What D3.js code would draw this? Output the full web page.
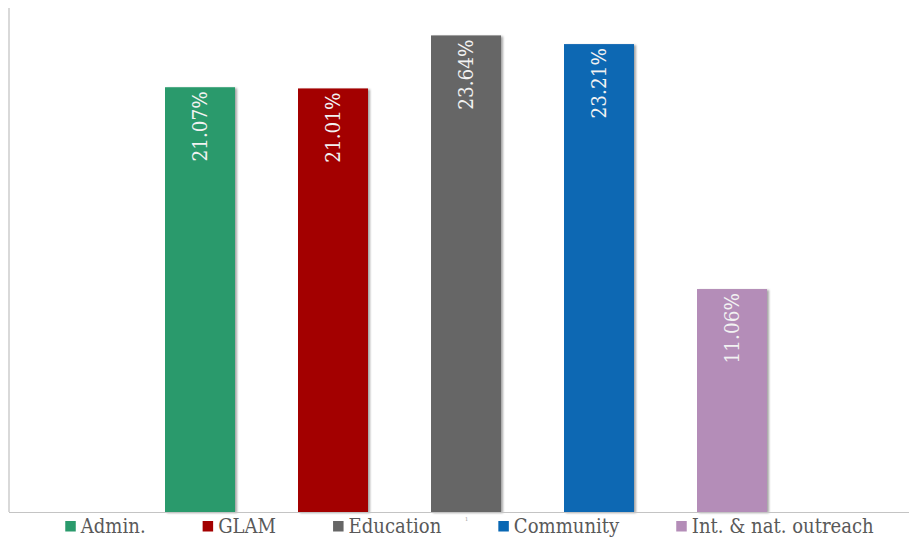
<!DOCTYPE html>
<html><head><meta charset="utf-8">
<script src="https://cdn.jsdelivr.net/npm/d3@7"></script>
<style>html,body{margin:0;padding:0;background:#fff;}svg{display:block;}</style>
</head><body>
<svg id="chart" width="909" height="538"></svg>
<script>
const categories = ["Admin.", "GLAM", "Education", "Community", "Int. & nat. outreach"];
const values = [21.07, 21.01, 23.64, 23.21, 11.06];
const labels = ["21.07%", "21.01%", "23.64%", "23.21%", "11.06%"];
const colors = ["#2a9a6c", "#a30000", "#666666", "#0867b3", "#b48db8"];

const svg = d3.select("#chart");
const plot = {left: 9, top: 8, right: 909, bottom: 512};

const defs = svg.append("defs");
const f = defs.append("filter").attr("id", "shadow").attr("x", "-20%").attr("y", "-5%").attr("width", "140%").attr("height", "110%");
f.append("feDropShadow").attr("dx", 2).attr("dy", 1).attr("stdDeviation", 1.2).attr("flood-color", "#000").attr("flood-opacity", 0.35);

const y = d3.scaleLinear().domain([0, 25]).range([plot.bottom, plot.top]);
const x = d3.scaleBand().domain(categories).range([165, 767]).paddingInner(0.4737).paddingOuter(0);

svg.append("line").attr("x1", plot.left).attr("x2", plot.left).attr("y1", plot.top).attr("y2", plot.bottom)
  .attr("stroke", "#d9d9d9").attr("stroke-width", 2);

svg.append("g").selectAll("rect").data(categories).join("rect")
  .attr("x", d => x(d)).attr("width", x.bandwidth())
  .attr("y", (d, i) => y(values[i])).attr("height", (d, i) => plot.bottom - y(values[i]))
  .attr("fill", (d, i) => colors[i]).attr("filter", "url(#shadow)");

svg.append("line").attr("x1", plot.left).attr("x2", plot.right).attr("y1", plot.bottom + 0.5).attr("y2", plot.bottom + 0.5)
  .attr("stroke", "#c4c4c4").attr("stroke-width", 1.2);

svg.append("g").selectAll("text").data(categories).join("text")
  .attr("transform", (d, i) => `translate(${x(d) + x.bandwidth() / 2},${y(values[i]) + 4}) rotate(-90) scale(0.9,1)`)
  .attr("text-anchor", "end").attr("dy", "0.36em")
  .attr("font-family", "DejaVu Serif").attr("font-size", 20.5)
  .attr("fill", "#f2f2f2").text((d, i) => labels[i]);

// legend
const sx = 0.86;
const lg = svg.append("g").attr("font-family", "DejaVu Serif").attr("font-size", 21).attr("fill", "#595959");
const items = lg.selectAll("g").data(categories).join("g");
items.append("rect").attr("width", 10.5).attr("height", 10.5).attr("y", 521).attr("fill", (d, i) => colors[i]);
items.append("text").attr("transform", `translate(15.5,533) scale(${sx},1)`).text(d => d);
const gap = 57;
const widths = [];
items.each(function () { widths.push(this.querySelector("text").getComputedTextLength() * sx + 15.5); });
const total = d3.sum(widths) + gap * (widths.length - 1);
let cx = 469.5 - total / 2;
items.each(function (d, i) { d3.select(this).attr("transform", `translate(${cx},0)`); cx += widths[i] + gap; });

svg.append("text").attr("x", 465).attr("y", 521).attr("font-size", 5).attr("fill", "#999").attr("font-family", "DejaVu Serif").text("1");
</script>
</body></html>
